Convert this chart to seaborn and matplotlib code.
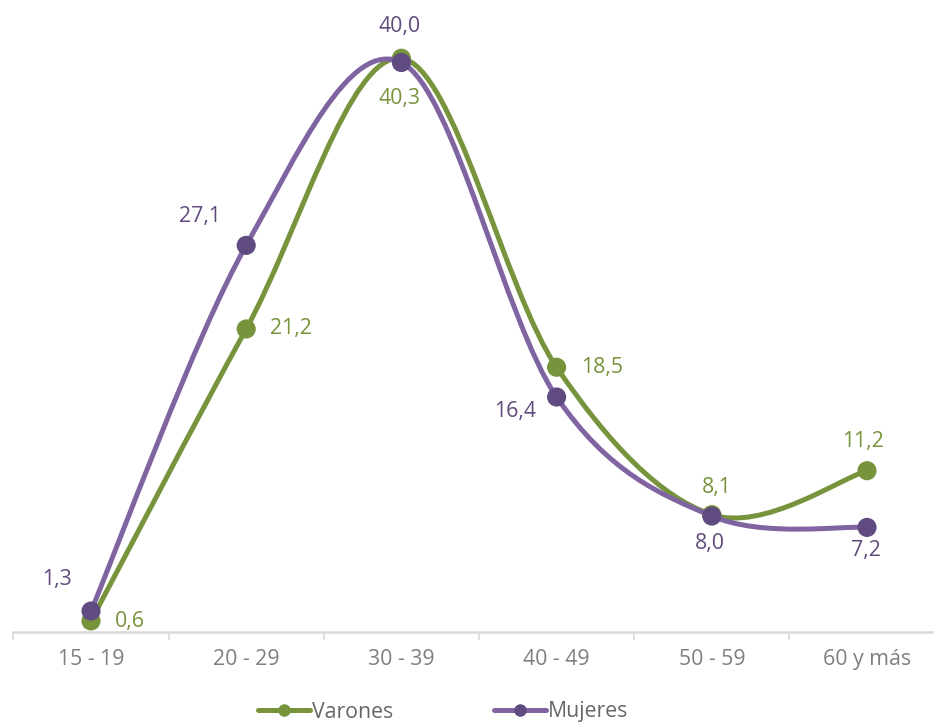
import numpy as np
import pandas as pd
import matplotlib
matplotlib.use("Agg")
import matplotlib.pyplot as plt
import seaborn as sns
from matplotlib.path import Path
from matplotlib.patches import PathPatch
from matplotlib.lines import Line2D

# data
grupos = ["15 - 19", "20 - 29", "30 - 39", "40 - 49", "50 - 59", "60 y más"]
varones = [0.6, 21.2, 40.3, 18.5, 8.1, 11.2]
mujeres = [1.3, 27.1, 40.0, 16.4, 8.0, 7.2]

verde = "#77933C"
lila_linea = "#8064A2"
lila_punto = "#5F4B80"
lila_texto = "#604A7B"

sns.set_style("white")
plt.rcParams["font.family"] = ["Open Sans", "DejaVu Sans"]

df = pd.DataFrame({
    "grupo": list(range(len(grupos))) * 2,
    "valor": varones + mujeres,
    "serie": ["Varones"] * len(grupos) + ["Mujeres"] * len(grupos),
})

fig = plt.figure(figsize=(9.34, 7.26), dpi=100)
# axes runs a bit past the right edge, like the original
ax = fig.add_axes([13.4 / 934, 1 - 632 / 726, 931.2 / 934, 612 / 726])


def curva_suave(ys):
    # Excel-like smoothed line: Catmull-Rom as cubic Bezier
    pts = np.column_stack([np.arange(len(ys)), ys]).astype(float)
    ext = np.vstack([pts[0], pts, pts[-1]])
    verts = [pts[0]]
    codes = [Path.MOVETO]
    for i in range(len(pts) - 1):
        p0, p1, p2, p3 = ext[i], ext[i + 1], ext[i + 2], ext[i + 3]
        verts += [p1 + (p2 - p0) / 6, p2 - (p3 - p1) / 6, p2]
        codes += [Path.CURVE4] * 3
    return Path(verts, codes)


for ys, col, z in [(varones, verde, 2), (mujeres, lila_linea, 4)]:
    ax.add_patch(PathPatch(curva_suave(ys), facecolor="none", edgecolor=col,
                           lw=3.6, capstyle="round", joinstyle="round", zorder=z))

sns.scatterplot(data=df[df.serie == "Varones"], x="grupo", y="valor", color=verde,
                s=190, edgecolor="none", ax=ax, zorder=3, legend=False)
sns.scatterplot(data=df[df.serie == "Mujeres"], x="grupo", y="valor", color=lila_punto,
                s=190, edgecolor="none", ax=ax, zorder=5, legend=False)

# data labels (offsets in pixels)
off_v = [(39, -1), (45, 0), (-2, -40), (46, 0), (5, 27), (-4, 29)]
off_m = [(-34, 32), (-46, 29), (-2, 36), (-41, -14), (-2, -27), (-1, -23)]
for i in range(len(grupos)):
    ax.annotate(f"{varones[i]:.1f}".replace(".", ","), (i, varones[i]), xytext=off_v[i],
                textcoords="offset pixels", ha="center", va="center", fontsize=15.3, color=verde)
    ax.annotate(f"{mujeres[i]:.1f}".replace(".", ","), (i, mujeres[i]), xytext=off_m[i],
                textcoords="offset pixels", ha="center", va="center", fontsize=15.3, color=lila_texto)

ax.set_xlim(-0.5, 5.5)
ax.set_ylim(-0.18, 43.0)
ax.set_xticks(range(len(grupos)))
ax.set_xticklabels(grupos)
ax.set_xticks(np.arange(-0.5, 6.0, 1), minor=True)
ax.set_yticks([])
ax.set_xlabel("")
ax.set_ylabel("")
ax.tick_params(axis="x", which="both", bottom=True)
ax.tick_params(axis="x", which="major", length=0, pad=12, labelsize=15.3, labelcolor="#7F7F7F")
ax.tick_params(axis="x", which="minor", length=6, width=1.2, color="#D9D9D9")
for s in ["top", "right", "left"]:
    ax.spines[s].set_visible(False)
ax.spines["bottom"].set_color("#D9D9D9")
ax.spines["bottom"].set_linewidth(1.8)

handles = [
    Line2D([], [], color=verde, lw=3.6, marker="o", markersize=8, markerfacecolor=verde,
           markeredgecolor=verde),
    Line2D([], [], color=lila_linea, lw=3.6, marker="o", markersize=8, markerfacecolor=lila_punto,
           markeredgecolor=lila_punto),
]
fig.legend(handles, ["Varones", "Mujeres"], loc="center", bbox_to_anchor=(443 / 934, 1 - 712 / 726),
           ncol=2, frameon=False, fontsize=15.3, handlelength=2.45, handletextpad=0.1,
           columnspacing=4.75, labelcolor="#666666", borderpad=0.2)

fig.savefig("out.png", dpi=100)
